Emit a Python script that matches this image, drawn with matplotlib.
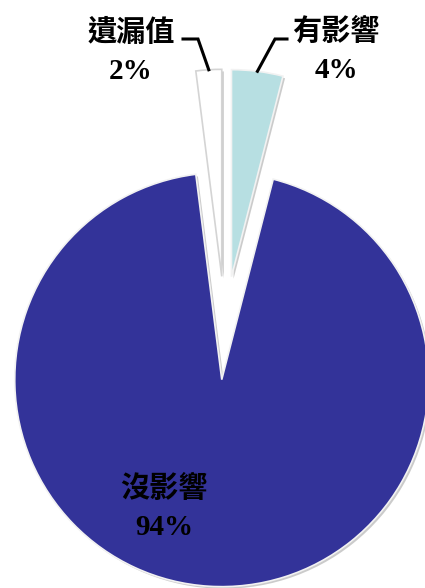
import numpy as np
import matplotlib.pyplot as plt
import matplotlib.patheffects as pe

# chart data
labels = ['有影響', '沒影響', '遺漏值']
values = [4, 94, 2]
colors = ['#B7DFE2', '#333399', '#FFFFFF']
explode = [0.25, 0.25, 0.25]

W, H = 425, 588
# pixel -> data mapping (radius = 207 px)
cx, cy, rpx = 225, 328, 207


def to_data(px, py):
    return (px - cx) / rpx, (cy - py) / rpx


fig = plt.figure(figsize=(W / 100, H / 100), dpi=100)
ax = fig.add_axes([0, 0, 1, 1])

wedges, _ = ax.pie(values, colors=colors, explode=explode, startangle=90,
                   counterclock=False, radius=1.0,
                   wedgeprops=dict(edgecolor='#f2f2f2', linewidth=1.2))
for w in wedges:
    w.set_path_effects([pe.SimplePatchShadow(offset=(1.5, -1.5), shadow_rgbFace='#7f7f7f', alpha=0.4),
                        pe.Normal()])
wedges[2].set_edgecolor('#d4d4d4')

ax.set_aspect('auto')
x0, y0 = to_data(0, H)
x1, y1 = to_data(W, 0)
ax.set_xlim(x0, x1)
ax.set_ylim(y0, y1)
ax.axis('off')

font = dict(family=['Liberation Serif', 'Noto Sans CJK TC'], fontweight='bold',
            fontsize=21, ha='center', va='center', linespacing=1.55, color='black')

# label positions (pixels) and leader elbows
label_pos = {'有影響': (336, 51), '沒影響': (164, 508), '遺漏值': (131, 52)}
elbows = {'有影響': [(287, 39), (275, 39)], '遺漏值': [(183, 39), (198, 39)]}

for w, lab, v in zip(wedges, labels, values):
    px, py = label_pos[lab]
    ax.text(*to_data(px, py), f'{lab}\n{v}%', **font)
    if lab in elbows:
        mid = np.deg2rad((w.theta1 + w.theta2) / 2)
        ex = w.center[0] + w.r * np.cos(mid)
        ey = w.center[1] + w.r * np.sin(mid)
        pts = [to_data(*p) for p in elbows[lab]] + [(ex, ey)]
        xs, ys = zip(*pts)
        ax.plot(xs, ys, color='black', lw=2.2, solid_joinstyle='miter')

fig.savefig('out.png', dpi=100)
